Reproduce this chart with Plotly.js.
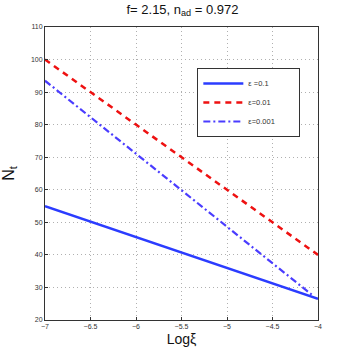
<!DOCTYPE html>
<html>
<head>
<meta charset="utf-8">
<script src="https://cdn.plot.ly/plotly-3.0.1.min.js"></script>
<style>html,body{margin:0;padding:0;background:#fff;}</style>
</head>
<body>
<div id="plot" style="width:351px;height:360px;"></div>
<script>
// values
const logXi = [-7, -4];
const nSolid = [55, 26.5];        // eps = 0.1
const nDash = [100, 40];          // eps = 0.01
const logXiDot = [-7, -4.07];
const nDot = [93.5, 27.8];        // eps = 0.001
const names = ["\u03b5 =0.1", "\u03b5=0.01", "\u03b5=0.001"];
const pad = '\u00a0'.repeat(9);

const data = [
    { x: logXi, y: nSolid, mode: 'lines', name: names[0] + pad,
      line: { color: '#2b3cff', width: 2.5, dash: 'solid' } },
    { x: logXi, y: nDash, mode: 'lines', name: names[1] + pad,
      line: { color: '#ee1111', width: 2.5, dash: '6px,5px' } },
    { x: logXiDot, y: nDot, mode: 'lines', name: names[2] + pad,
      line: { color: '#4a3cff', width: 2.2, dash: '7px,3px,2px,3px' } }
];

const axisCommon = {
    showgrid: true,
    gridcolor: '#b0b0b0',
    griddash: '1px,3px',
    gridwidth: 1,
    zeroline: false,
    showline: true,
    linecolor: '#333',
    linewidth: 1,
    mirror: true,
    ticks: 'inside',
    ticklen: 3,
    tickcolor: '#333',
    tickfont: { family: 'Liberation Sans', size: 7, color: '#333' }
};

const layout = {
    width: 351,
    height: 360,
    margin: { l: 45, r: 33, t: 27, b: 40 },
    paper_bgcolor: '#fff',
    plot_bgcolor: '#fff',
    title: {
        text: 'f= 2.15, n<sub>ad</sub> = 0.972',
        font: { family: 'Liberation Sans', size: 13, color: '#111' },
        x: 0.52, xanchor: 'center', y: 0.975, yanchor: 'middle'
    },
    xaxis: Object.assign({}, axisCommon, {
        range: [-7, -4],
        tickvals: [-7, -6.5, -6, -5.5, -5, -4.5, -4],
        ticktext: ['\u22127', '\u22126.5', '\u22126', '\u22125.5', '\u22125', '\u22124.5', '\u22124'],
        title: { text: 'Log\u03be', font: { family: 'Liberation Sans', size: 14, color: '#111' }, standoff: 4 }
    }),
    yaxis: Object.assign({}, axisCommon, {
        range: [20, 110],
        dtick: 10,
        title: { text: 'N<sub>t</sub>', font: { family: 'Liberation Sans', size: 16, color: '#111' }, standoff: 12 }
    }),
    showlegend: true,
    legend: {
        x: 0.558, xanchor: 'left',
        y: 0.86, yanchor: 'top',
        bgcolor: '#fff',
        bordercolor: '#333',
        borderwidth: 1,
        font: { family: 'Liberation Sans', size: 7.5, color: '#333' },
        itemwidth: 40,
        tracegroupgap: 8
    }
};

Plotly.newPlot('plot', data, layout, { displayModeBar: false, staticPlot: true });
</script>
</body>
</html>
